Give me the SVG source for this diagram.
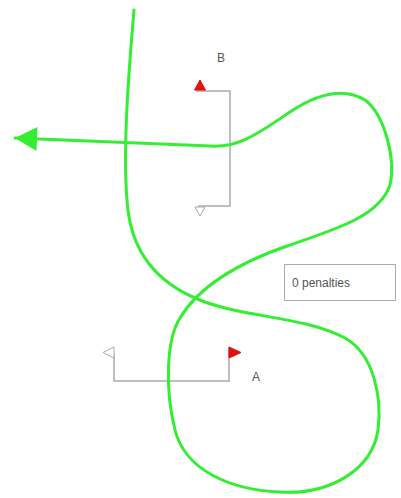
<svg xmlns="http://www.w3.org/2000/svg" width="401" height="498" viewBox="0 0 401 498">
<style>
.gate{fill:none;stroke:#aaaaaa;stroke-width:1.5}
.red{fill:#e01010;stroke:#e01010;stroke-width:1}
.white{fill:#ffffff;stroke:#aaaaaa;stroke-width:1}
.lbl{font-family:"Liberation Sans",Arial,sans-serif;font-size:12px;fill:#555555}
.track{fill:none;stroke:#33ee33;stroke-width:3;stroke-linecap:round}
</style>
<defs>
<marker id="arr" markerUnits="userSpaceOnUse" markerWidth="26" markerHeight="28" refX="24" refY="14" orient="auto">
<polygon points="24,14 2,2 2,26" fill="#33ee33"/>
</marker>
</defs>
<rect width="401" height="498" fill="#ffffff"/>
<g id="gateB">
<polyline class="gate" points="196,91 230,91 230,206 198,206"/>
<polygon class="red" points="194.5,90 205.5,90 200,80"/>
<polygon class="white" points="195,207 205,207 200,216"/>
<text class="lbl" x="221" y="62" text-anchor="middle">B</text>
</g>
<g id="gateA">
<polyline class="gate" points="114,354 114,381 229,381 229,347"/>
<polygon class="white" points="114,347 114,358 103,352.5"/>
<polygon class="red" points="229,347 229,358 241,352.5"/>
<text class="lbl" x="256" y="381" text-anchor="middle">A</text>
</g>
<g id="penalties">
<rect x="284.5" y="264.5" width="111" height="36" fill="#ffffff" stroke="#aaaaaa" stroke-width="1"/>
<text class="lbl" x="292" y="287" fill="#333333">0 penalties</text>
</g>
<g id="connectors">
<path class="track" marker-end="url(#arr)" d="M134,10 C128,80 122,160 128,210 C134,260 165,285 195,298 C240,318 300,315 345,338 C375,355 382,400 378,430 C372,470 330,495 280,492 C230,490 185,470 175,430 C165,390 166,340 180,318 C200,285 240,262 290,245 C340,228 380,215 390,185 C396,160 385,115 365,100 C345,88 320,92 290,112 C260,132 240,148 210,146 L15,138"/>
</g>
</svg>
